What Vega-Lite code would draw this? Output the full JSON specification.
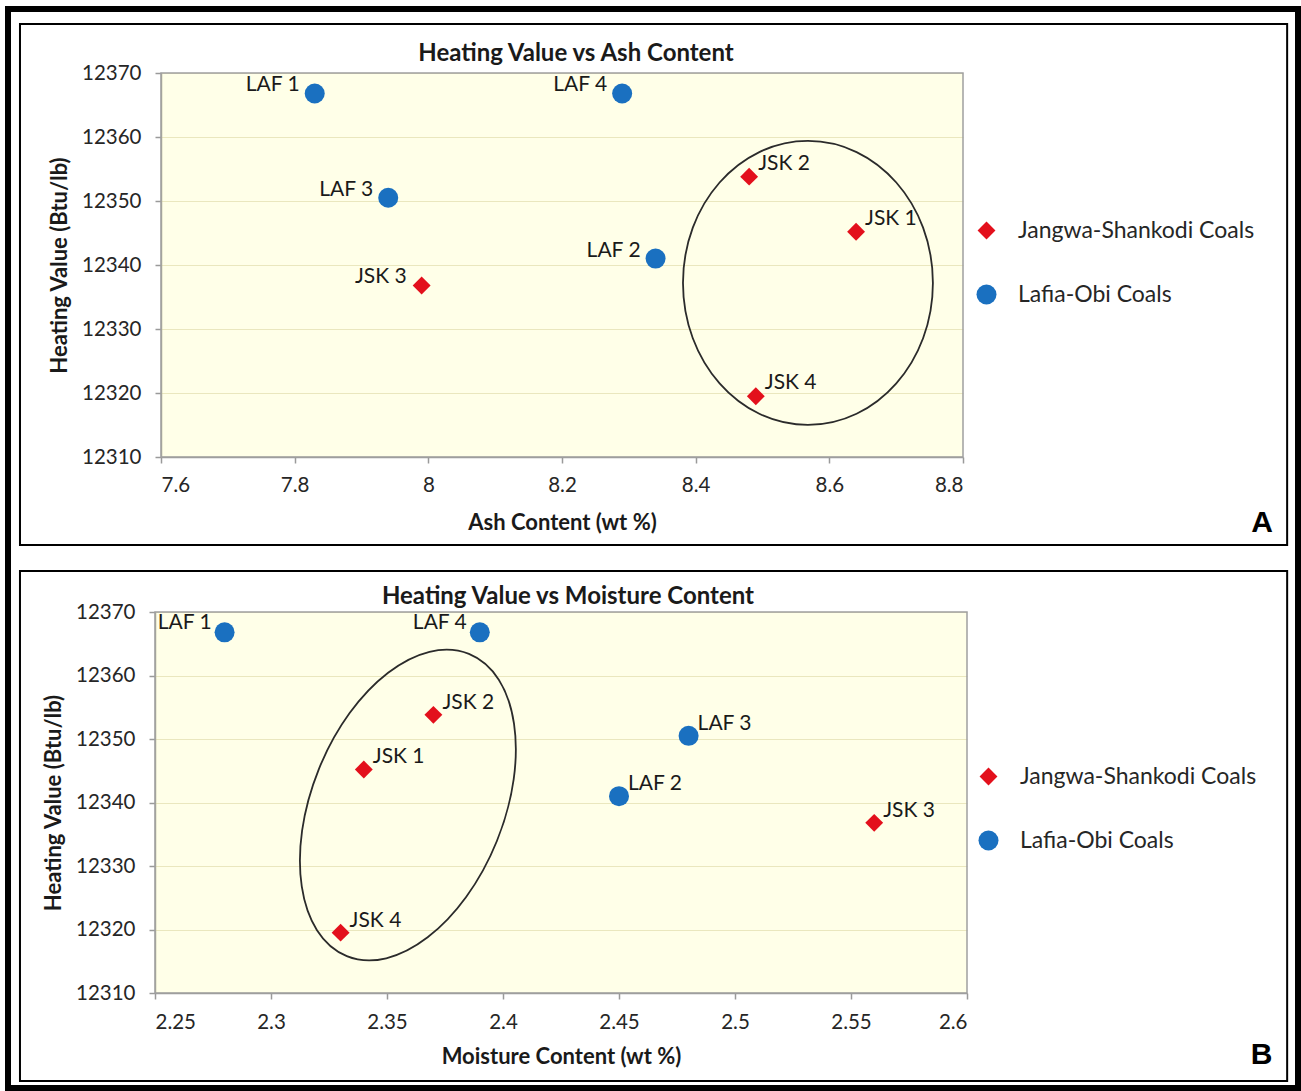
{
  "$schema": "https://vega.github.io/schema/vega-lite/v6.json",
  "width": 1290,
  "height": 1079,
  "autosize": {"type": "none"},
  "padding": {"left": 8, "top": 9, "right": 3, "bottom": 3},
  "background": "white",
  "data": {
    "values": [
      {"sample": "LAF 1", "group": "Lafia-Obi Coals", "ash": 7.83, "moisture": 2.28, "hv": 12366.8},
      {"sample": "LAF 2", "group": "Lafia-Obi Coals", "ash": 8.34, "moisture": 2.45, "hv": 12341.0},
      {"sample": "LAF 3", "group": "Lafia-Obi Coals", "ash": 7.94, "moisture": 2.48, "hv": 12350.5},
      {"sample": "LAF 4", "group": "Lafia-Obi Coals", "ash": 8.29, "moisture": 2.39, "hv": 12366.8},
      {"sample": "JSK 1", "group": "Jangwa-Shankodi Coals", "ash": 8.64, "moisture": 2.34, "hv": 12345.2},
      {"sample": "JSK 2", "group": "Jangwa-Shankodi Coals", "ash": 8.48, "moisture": 2.37, "hv": 12353.8},
      {"sample": "JSK 3", "group": "Jangwa-Shankodi Coals", "ash": 7.99, "moisture": 2.56, "hv": 12336.8},
      {"sample": "JSK 4", "group": "Jangwa-Shankodi Coals", "ash": 8.49, "moisture": 2.33, "hv": 12319.5}
    ]
  },
  "layer": [
    {
      "layer": [
        {
          "data": {"values": [{}]},
          "mark": {"type": "rect", "fill": "rgba(255,255,128,0.18)", "strokeWidth": 0},
          "encoding": {
            "x": {"datum": 7.6, "type": "quantitative", "scale": {"domain": [7.6, 8.8], "range": [153, 955], "nice": false, "zero": false},
              "axis": {"orient": "bottom", "offset": -631, "values": [7.6, 7.8, 8, 8.2, 8.4, 8.6, 8.8], "format": "~g", "title": "Ash Content (wt %)", "grid": false, "labelPadding": 12, "titlePadding": 17}},
            "x2": {"datum": 8.8},
            "y": {"datum": 12310, "type": "quantitative", "scale": {"domain": [12310, 12370], "range": [448, 64], "nice": false, "zero": false},
              "axis": {"orient": "left", "offset": -153, "values": [12310, 12320, 12330, 12340, 12350, 12360, 12370], "format": "d", "title": "Heating Value  (Btu/lb)", "grid": true, "gridColor": "#e6e2cc", "gridWidth": 1.2, "labelPadding": 14, "titlePadding": 10}},
            "y2": {"datum": 12370}
          }
        },
        {
          "data": {"values": [{}]},
          "mark": {"type": "rect", "fill": null, "filled": false, "stroke": "#a0a0a0", "strokeWidth": 1.5},
          "encoding": {
            "x": {"datum": 7.6, "type": "quantitative"},
            "x2": {"datum": 8.8},
            "y": {"datum": 12310, "type": "quantitative"},
            "y2": {"datum": 12370}
          }
        },
        {
          "data": {"values": [{}]},
          "mark": {"type": "rect", "fill": null, "filled": false, "stroke": "black", "strokeWidth": 2},
          "encoding": {
            "x": {"datum": 7.389, "type": "quantitative"},
            "x2": {"datum": 9.285},
            "y": {"datum": 12377.66, "type": "quantitative"},
            "y2": {"datum": 12296.25}
          }
        },
        {
          "mark": {"type": "point", "filled": true, "strokeWidth": 0, "opacity": 1},
          "encoding": {
            "x": {"field": "ash", "type": "quantitative", "title": "Ash Content (wt %)"},
            "y": {"field": "hv", "type": "quantitative", "title": "Heating Value  (Btu/lb)"},
            "color": {"field": "group", "type": "nominal", "scale": {"domain": ["Jangwa-Shankodi Coals", "Lafia-Obi Coals"], "range": ["#e3101c", "#1a70c0"]},
              "legend": {"title": null, "orient": "none", "legendX": 967, "legendY": 210}},
            "shape": {"field": "group", "type": "nominal", "scale": {"domain": ["Jangwa-Shankodi Coals", "Lafia-Obi Coals"], "range": ["diamond", "circle"]},
              "legend": {"title": null, "orient": "none", "legendX": 967, "legendY": 210}},
            "size": {"field": "group", "type": "nominal", "scale": {"domain": ["Jangwa-Shankodi Coals", "Lafia-Obi Coals"], "range": [320, 400]}, "legend": null}
          }
        },
        {
          "data": {"values": [{}]},
          "mark": {"type": "point", "shape": "M 0.88 0 C 0.88 0.5523 0.486 1 0 1 C -0.486 1 -0.88 0.5523 -0.88 0 C -0.88 -0.5523 -0.486 -1 0 -1 C 0.486 -1 0.88 -0.5523 0.88 0 Z", "size": 80656, "filled": false, "stroke": "#2b2b2b", "strokeWidth": 1.8, "opacity": 1},
          "encoding": {
            "x": {"datum": 8.568, "type": "quantitative"},
            "y": {"datum": 12337.2, "type": "quantitative"}
          }
        },
        {
          "transform": [{"filter": {"field": "sample", "oneOf": ["LAF 1", "LAF 2", "LAF 3", "LAF 4", "JSK 3"]}}],
          "mark": {"type": "text", "align": "right", "baseline": "middle", "dx": -15, "dy": -8, "fontSize": 21, "font": "Lato", "color": "#1a1a1a"},
          "encoding": {
            "x": {"field": "ash", "type": "quantitative", "title": "Ash Content (wt %)"},
            "y": {"field": "hv", "type": "quantitative", "title": "Heating Value  (Btu/lb)"},
            "text": {"field": "sample"}
          }
        },
        {
          "transform": [{"filter": {"field": "sample", "oneOf": ["JSK 1", "JSK 2", "JSK 4"]}}],
          "mark": {"type": "text", "align": "left", "baseline": "middle", "dx": 9, "dy": -13, "fontSize": 21, "font": "Lato", "color": "#1a1a1a"},
          "encoding": {
            "x": {"field": "ash", "type": "quantitative", "title": "Ash Content (wt %)"},
            "y": {"field": "hv", "type": "quantitative", "title": "Heating Value  (Btu/lb)"},
            "text": {"field": "sample"}
          }
        },
        {
          "data": {"values": [{}]},
          "mark": {"type": "text", "align": "center", "baseline": "middle", "fontSize": 24, "fontWeight": "bold", "font": "Lato", "color": "#1a1a1a"},
          "encoding": {
            "x": {"datum": 8.221, "type": "quantitative"},
            "y": {"datum": 12373.0, "type": "quantitative"},
            "text": {"value": "Heating Value vs Ash Content"}
          }
        },
        {
          "data": {"values": [{}]},
          "mark": {"type": "text", "align": "center", "baseline": "middle", "fontSize": 30, "fontWeight": "bold", "font": "Liberation Sans", "color": "black"},
          "encoding": {
            "x": {"datum": 9.2475, "type": "quantitative"},
            "y": {"datum": 12299.7, "type": "quantitative"},
            "text": {"value": "A"}
          }
        }
      ]
    },
    {
      "layer": [
        {
          "data": {"values": [{}]},
          "mark": {"type": "rect", "fill": "rgba(255,255,128,0.18)", "strokeWidth": 0},
          "encoding": {
            "x": {"datum": 2.25, "type": "quantitative", "scale": {"domain": [2.25, 2.6], "range": [147, 959], "nice": false, "zero": false},
              "axis": {"orient": "bottom", "offset": -95, "values": [2.25, 2.3, 2.35, 2.4, 2.45, 2.5, 2.55, 2.6], "format": "~g", "title": "Moisture Content (wt %)", "grid": false, "labelPadding": 13, "titlePadding": 14}},
            "x2": {"datum": 2.6},
            "y": {"datum": 12310, "type": "quantitative", "scale": {"domain": [12310, 12370], "range": [984, 603], "nice": false, "zero": false},
              "axis": {"orient": "left", "offset": -147, "values": [12310, 12320, 12330, 12340, 12350, 12360, 12370], "format": "d", "title": "Heating Value  (Btu/lb)", "grid": true, "gridColor": "#e6e2cc", "gridWidth": 1.2, "labelPadding": 14, "titlePadding": 10}},
            "y2": {"datum": 12370}
          }
        },
        {
          "data": {"values": [{}]},
          "mark": {"type": "rect", "fill": null, "filled": false, "stroke": "#a0a0a0", "strokeWidth": 1.5},
          "encoding": {
            "x": {"datum": 2.25, "type": "quantitative"},
            "x2": {"datum": 2.6},
            "y": {"datum": 12310, "type": "quantitative"},
            "y2": {"datum": 12370}
          }
        },
        {
          "data": {"values": [{}]},
          "mark": {"type": "rect", "fill": null, "filled": false, "stroke": "black", "strokeWidth": 2},
          "encoding": {
            "x": {"datum": 2.1918, "type": "quantitative"},
            "x2": {"datum": 2.738},
            "y": {"datum": 12376.46, "type": "quantitative"},
            "y2": {"datum": 12296.14}
          }
        },
        {
          "mark": {"type": "point", "filled": true, "strokeWidth": 0, "opacity": 1},
          "encoding": {
            "x": {"field": "moisture", "type": "quantitative", "title": "Moisture Content (wt %)"},
            "y": {"field": "hv", "type": "quantitative", "title": "Heating Value  (Btu/lb)"},
            "color": {"field": "group", "type": "nominal", "scale": {"domain": ["Jangwa-Shankodi Coals", "Lafia-Obi Coals"], "range": ["#e3101c", "#1a70c0"]},
              "legend": {"title": null, "orient": "none", "legendX": 969, "legendY": 756}},
            "shape": {"field": "group", "type": "nominal", "scale": {"domain": ["Jangwa-Shankodi Coals", "Lafia-Obi Coals"], "range": ["diamond", "circle"]},
              "legend": {"title": null, "orient": "none", "legendX": 969, "legendY": 756}},
            "size": {"field": "group", "type": "nominal", "scale": {"domain": ["Jangwa-Shankodi Coals", "Lafia-Obi Coals"], "range": [320, 400]}, "legend": null}
          }
        },
        {
          "data": {"values": [{}]},
          "mark": {"type": "point", "shape": "M 0.589 0 C 0.589 0.5523 0.3253 1 0 1 C -0.3253 1 -0.589 0.5523 -0.589 0 C -0.589 -0.5523 -0.3253 -1 0 -1 C 0.3253 -1 0.589 -0.5523 0.589 0 Z", "size": 106276, "angle": 22, "filled": false, "stroke": "#2b2b2b", "strokeWidth": 1.8, "opacity": 1},
          "encoding": {
            "x": {"datum": 2.359, "type": "quantitative"},
            "y": {"datum": 12339.6, "type": "quantitative"}
          }
        },
        {
          "transform": [{"filter": {"field": "sample", "oneOf": ["LAF 1", "LAF 4"]}}],
          "mark": {"type": "text", "align": "right", "baseline": "middle", "dx": -13, "dy": -9, "fontSize": 21, "font": "Lato", "color": "#1a1a1a"},
          "encoding": {
            "x": {"field": "moisture", "type": "quantitative", "title": "Moisture Content (wt %)"},
            "y": {"field": "hv", "type": "quantitative", "title": "Heating Value  (Btu/lb)"},
            "text": {"field": "sample"}
          }
        },
        {
          "transform": [{"filter": {"field": "sample", "oneOf": ["JSK 1", "JSK 2", "JSK 3", "JSK 4", "LAF 2", "LAF 3"]}}],
          "mark": {"type": "text", "align": "left", "baseline": "middle", "dx": 9, "dy": -12, "fontSize": 21, "font": "Lato", "color": "#1a1a1a"},
          "encoding": {
            "x": {"field": "moisture", "type": "quantitative", "title": "Moisture Content (wt %)"},
            "y": {"field": "hv", "type": "quantitative", "title": "Heating Value  (Btu/lb)"},
            "text": {"field": "sample"}
          }
        },
        {
          "data": {"values": [{}]},
          "mark": {"type": "text", "align": "center", "baseline": "middle", "fontSize": 24, "fontWeight": "bold", "font": "Lato", "color": "#1a1a1a"},
          "encoding": {
            "x": {"datum": 2.428, "type": "quantitative"},
            "y": {"datum": 12372.3, "type": "quantitative"},
            "text": {"value": "Heating Value vs Moisture Content"}
          }
        },
        {
          "data": {"values": [{}]},
          "mark": {"type": "text", "align": "center", "baseline": "middle", "fontSize": 30, "fontWeight": "bold", "font": "Liberation Sans", "color": "black"},
          "encoding": {
            "x": {"datum": 2.727, "type": "quantitative"},
            "y": {"datum": 12300.2, "type": "quantitative"},
            "text": {"value": "B"}
          }
        }
      ]
    }
  ],
  "resolve": {"scale": {"x": "independent", "y": "independent", "color": "independent", "shape": "independent", "size": "independent"}},
  "config": {
    "view": {"stroke": "black", "strokeWidth": 6},
    "font": "Lato",
    "axis": {
      "domainColor": "#9a9a9a", "domainWidth": 1.5, "tickColor": "#9a9a9a", "tickWidth": 1.5, "tickSize": 6,
      "labelFont": "Lato", "labelFontSize": 20.5, "labelColor": "#262626",
      "titleFont": "Lato", "titleFontSize": 22, "titleFontWeight": "bold", "titleColor": "#1a1a1a"
    },
    "legend": {
      "symbolSize": 170, "symbolStrokeWidth": 0, "labelFont": "Lato", "labelFontSize": 23, "labelColor": "#262626",
      "rowPadding": 40, "labelOffset": 20, "padding": 0, "labelLimit": 400
    }
  }
}
